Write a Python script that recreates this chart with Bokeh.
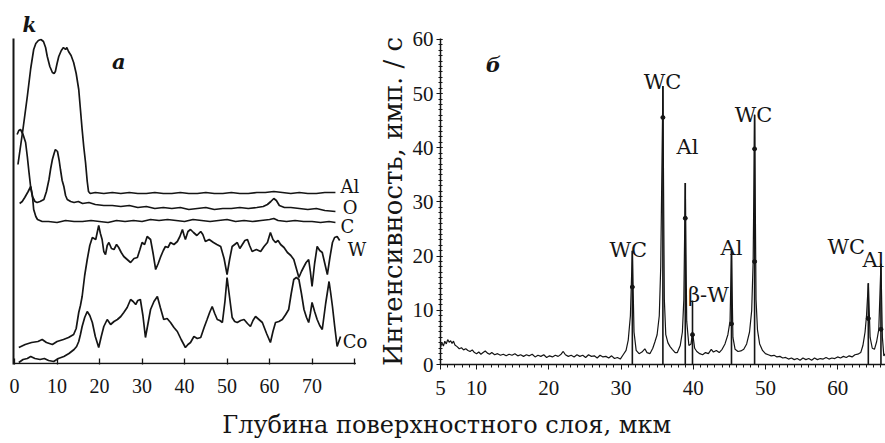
from bokeh.plotting import figure
from bokeh.layouts import row, column
from bokeh.models import Range1d, FixedTicker, Label
from bokeh.core.properties import value
from bokeh.embed import file_html
from bokeh.resources import INLINE

# ---------------- Panel a: depth profiles (arbitrary units k) ----------------
al_x = [0.8, 2.0, 3.0, 3.8, 4.5, 5.0, 5.6, 6.2, 6.8, 7.3, 7.7, 8.3, 8.9, 9.3, 9.6, 10.0, 10.4, 11.0, 11.5, 12.0,
        12.3, 12.7, 13.3, 13.9, 14.5, 15.1, 15.5, 15.9, 16.3, 16.7, 17.1, 17.4, 17.8, 19, 21, 23, 25, 27, 29, 31,
        33, 35, 37, 39, 41, 43, 45, 47, 49, 51, 53, 55, 57, 59, 61, 63, 65, 67, 69, 71, 73, 75.5]
al_k = [199, 235, 267, 295, 314, 320, 323, 324, 322, 316, 307, 297, 291, 290, 292, 300, 307, 313, 316, 314,
        316, 312, 308, 301, 290, 274, 254, 234, 216, 201, 182, 172, 170, 171, 170, 171, 170, 171, 170, 170,
        171, 170, 170, 171, 170, 170, 171, 170, 170, 171, 170, 170, 171, 171, 172, 171, 170, 171, 170, 170, 171, 171]

o_x = [0.6, 1.0, 1.4, 2.0, 2.6, 3.0, 3.4, 3.8, 4.2, 4.8, 5.3, 6.0, 6.9, 7.5, 8.1, 8.5, 8.9, 9.3, 9.6, 10.1,
       10.5, 10.8, 11.2, 11.6, 12.0, 12.4, 13.2, 14.0, 15, 16, 17.5, 19, 21, 23, 25, 27, 29, 31, 33, 35, 37, 39,
       41, 43, 45, 47, 49, 51, 53, 55, 57, 58.5, 59.5, 60.3, 61.0, 61.6, 62.3, 63.5, 65, 67, 69, 71, 73, 75.5]
o_k = [229, 233, 234, 229, 221, 207, 191, 176, 167, 162, 161, 162, 164, 172, 184, 195, 204, 210, 214, 212,
       203, 194, 183, 177, 168, 164, 162, 161, 162, 160, 161, 159, 158, 158, 157, 158, 156, 157, 155, 156, 155, 156,
       154, 155, 156, 154, 155, 155, 156, 155, 156, 157, 159, 162, 165, 163, 158, 156, 156, 155, 154, 155, 153, 152]

c_x = [1.2, 1.8, 2.4, 3.2, 3.8, 4.2, 4.5, 5.0, 5.4, 6.5, 8, 10, 12, 14, 16, 18, 20, 22, 24, 26, 28, 30, 32, 34,
       36, 38, 40, 42, 44, 46, 48, 50, 52, 54, 56, 58, 60, 61, 62, 64, 66, 68, 70, 72, 74, 75.5]
c_k = [160, 162, 166, 172, 177, 168, 154, 147, 144, 142, 142, 141, 143, 142, 142, 143, 142, 141, 143, 142, 143, 142,
       144, 143, 144, 143, 142, 144, 143, 142, 143, 144, 142, 143, 142, 143, 144, 145, 143, 142, 143, 142, 142, 141,
       142, 141]

w_x = [1.0, 2.5, 4.0, 5.5, 6.5, 7.5, 8.9, 10.0, 11.5, 12.7, 13.9, 14.5, 15.1, 15.5, 15.9, 16.5, 17.1, 17.7, 18.3,
       19.1, 19.8, 20.2, 20.6, 21.0, 21.4, 21.8, 22.2, 22.8, 23.4, 24.0, 24.5, 25.1, 25.7, 26.5, 27.3, 28.1, 28.9,
       29.5, 30.0, 30.6, 31.2, 32.0, 32.6, 33.2, 33.8, 34.4, 35.0, 35.5, 36.1, 36.7, 37.5, 38.3, 38.9, 39.5, 39.9,
       40.2, 40.8, 41.4, 42.1, 42.9, 43.8, 44.3, 44.9, 45.8, 46.8, 47.6, 48.5, 49.3, 50.0, 50.6, 51.2, 51.8, 52.4,
       53.0, 53.6, 54.2, 54.8, 55.3, 55.9, 56.9, 57.9, 58.7, 59.5, 60.2, 60.8, 61.4, 62.0, 62.6, 63.4, 64.2, 65.0,
       65.7, 66.3, 66.9, 67.5, 68.1, 68.6, 69.2, 69.6, 70.0, 70.6, 71.2, 71.8, 72.4, 73.0, 73.6, 74.2, 74.8, 75.3,
       75.9, 76.5]
w_k = [16, 19, 21, 22, 24, 21, 19, 22, 24, 26, 29, 35, 51, 58, 67, 88, 104, 118, 126,
       124, 138, 130, 124, 112, 109, 118, 121, 115, 114, 119, 116, 111, 107, 104, 101, 105, 106,
       114, 121, 119, 127, 124, 110, 94, 100, 107, 113, 117, 116, 121, 119, 122, 127, 134, 128,
       124, 132, 134, 131, 128, 132, 129, 122, 124, 121, 119, 117, 105, 89, 104, 117, 119, 121,
       115, 119, 123, 124, 118, 112, 114, 112, 117, 121, 131, 124, 121, 123, 119, 116, 111, 108,
       104, 95, 86, 92, 97, 101, 104, 92, 77, 100, 117, 113, 111, 100, 89, 106, 121, 126,
       127, 123]

co_x = [1.0, 2.0, 3.0, 3.8, 4.8, 6.0, 7.0, 8.0, 9.2, 10.3, 11.6, 12.8, 14.0, 14.6, 15.1, 15.5, 15.9, 16.5, 17.1,
        17.7, 18.3, 19.0, 19.8, 20.4, 21.0, 21.8, 22.6, 23.4, 24.2, 25.0, 25.7, 26.5, 27.3, 27.9, 28.5, 29.0, 29.6,
        30.2, 30.8, 31.4, 32.0, 32.8, 33.6, 34.3, 35.1, 35.9, 36.7, 37.5, 38.3, 39.2, 40.2, 40.8, 41.4, 42.2, 43.0,
        43.8, 44.6, 45.3, 45.9, 46.5, 47.1, 47.7, 48.3, 48.9, 49.5, 50.0, 50.6, 51.2, 51.8, 52.4, 53.2, 54.0, 54.8,
        55.5, 56.1, 56.7, 57.5, 58.3, 59.3, 60.2, 60.8, 61.4, 62.2, 63.0, 63.8, 64.5, 65.1, 65.7, 66.3, 66.9, 67.5,
        68.1, 68.7, 69.2, 69.6, 70.0, 70.6, 71.2, 71.8, 72.4, 73.2, 74.0, 74.4, 74.8, 75.3, 75.9, 76.3, 76.7]
co_k = [1, 4, 5, 7, 5, 4, 5, 3, 2, 5, 7, 10, 14, 17, 22, 29, 37, 46, 52,
        48, 41, 27, 16, 27, 37, 44, 39, 42, 44, 47, 51, 56, 64, 62, 59, 63, 64,
        48, 26, 40, 54, 62, 67, 56, 44, 45, 41, 36, 32, 24, 16, 19, 21, 27, 25,
        26, 36, 44, 51, 57, 50, 44, 43, 41, 62, 86, 66, 46, 42, 41, 43, 44, 40,
        37, 43, 47, 44, 41, 30, 21, 32, 41, 42, 44, 49, 54, 70, 84, 86, 84, 70,
        54, 46, 41, 50, 61, 52, 44, 38, 34, 60, 82, 70, 57, 38, 17, 22, 27]

left_ticks = [0, 10, 20, 30, 40, 50, 60, 70, 80]
left_axis_end = 80.3
elem_names = ["Al", "O", "C", "W", "Co"]
elem_lab_x = [76.7, 77.2, 76.7, 78.4, 77.2]
elem_lab_k = [177.5, 156.5, 137.5, 114.5, 22.5]

# ---------------- Panel б: diffraction pattern ----------------
spec_x = [5.0, 5.2, 5.4, 5.6, 5.8, 6.0, 6.2, 6.4, 6.6, 6.8, 7.0, 7.3, 7.6, 7.9, 8.2, 8.5, 8.8, 9.1, 9.4, 9.7,
          10.0, 10.3, 10.6, 10.9, 11.2, 11.5, 11.8, 12.1, 12.5, 12.9, 13.3, 13.7, 14.1, 14.5, 14.9, 15.3, 15.7,
          16.1, 16.5, 16.9, 17.3, 17.7, 18.1, 18.5, 18.9, 19.3, 19.7, 20.1, 20.5, 20.9, 21.3, 21.7, 22.0, 22.3,
          22.7, 23.1, 23.5, 23.9, 24.3, 24.7, 25.1, 25.5, 25.9, 26.3, 26.7, 27.1, 27.5, 27.9, 28.3, 28.7, 29.1,
          29.5, 29.9, 30.3, 30.7, 31.0, 31.3, 31.57, 31.8, 32.1, 32.5, 32.9, 33.3, 33.6, 34.0, 34.4, 34.7, 35.0,
          35.3, 35.5, 35.8, 36.0, 36.2, 36.5, 36.8, 37.1, 37.5, 37.8, 38.2, 38.5, 38.7, 38.9, 39.1, 39.4, 39.7,
          39.9, 40.2, 40.5, 40.9, 41.3, 41.7, 42.1, 42.5, 42.8, 43.2, 43.6, 44.0, 44.4, 44.8, 45.1, 45.3, 45.5,
          45.8, 46.2, 46.6, 47.0, 47.4, 47.8, 48.1, 48.3, 48.5, 48.7, 48.9, 49.2, 49.6, 50.0, 50.4, 50.8, 51.2,
          51.6, 52.0, 52.4, 52.8, 53.2, 53.6, 54.0, 54.4, 54.8, 55.2, 55.6, 56.0, 56.4, 56.8, 57.2, 57.6, 58.0,
          58.4, 58.8, 59.2, 59.6, 60.0, 60.4, 60.8, 61.2, 61.6, 62.0, 62.4, 62.8, 63.2, 63.5, 63.8, 64.0, 64.25,
          64.5, 64.8, 65.1, 65.4, 65.7, 66.0, 66.2, 66.4, 66.63]
spec_i = [3.2, 4.0, 3.4, 4.3, 3.8, 4.6, 4.1, 4.4, 3.9, 4.3, 3.6, 3.3, 2.9, 3.1, 2.7, 2.9, 2.6, 2.4, 2.7, 2.2,
          2.0, 2.3, 1.9, 2.2, 2.5, 2.1, 1.9, 2.2, 1.8, 2.0, 1.7, 1.9, 1.6, 1.9, 1.7, 2.0, 1.6,
          1.8, 1.5, 1.8, 1.6, 1.9, 1.4, 1.7, 1.5, 1.8, 1.3, 1.6, 1.4, 1.7, 1.5, 1.9, 2.4, 1.8,
          1.5, 1.7, 1.4, 1.8, 1.5, 1.7, 1.3, 1.8, 1.5, 1.6, 1.2, 1.7, 1.4, 1.5, 1.2, 1.6, 1.1,
          1.3, 1.0, 1.8, 2.6, 4.5, 9.0, 21.0, 6.0, 2.6, 2.0, 2.3, 2.9, 2.2, 2.0, 3.0, 4.2, 5.5,
          9.0, 18.0, 51.4, 12.0, 5.5, 4.0, 3.3, 2.8, 2.2, 2.2, 3.5, 6.0, 12.0, 33.5, 8.0, 3.5, 3.8,
          6.0, 3.0, 2.4, 2.0, 1.8, 2.2, 2.0, 2.8, 2.3, 2.6, 2.2, 2.8, 3.8, 5.5, 8.0, 21.0, 5.0,
          2.8, 2.4, 2.5, 2.8, 3.8, 6.0, 10.0, 19.0, 46.1, 12.0, 6.4, 3.8, 2.6, 2.0, 1.8, 1.6, 1.7,
          1.4, 1.5, 1.2, 1.3, 1.0, 1.2, 0.9, 1.1, 0.8, 1.2, 0.9, 1.1, 0.8, 1.2, 0.9, 1.1, 1.0,
          1.3, 1.0, 1.2, 1.1, 1.4, 1.2, 1.5, 1.3, 1.6, 1.4, 1.8, 1.9, 2.2, 3.5, 6.0, 9.0, 15.0,
          5.0, 3.0, 2.8, 4.2, 6.5, 18.6, 5.0, 1.6, 2.0]

peak_pos = [31.57, 35.8, 38.9, 39.9, 45.3, 48.5, 64.25, 66.0]
peak_height = [21.0, 51.4, 33.5, 11.8, 21.0, 46.1, 15.0, 18.6]
peak_names = ["WC", "WC", "Al", "β-W", "Al", "WC", "WC", "Al"]
peak_lab_x = [31.0, 35.75, 39.2, 42.1, 45.3, 48.35, 61.2, 64.95]
peak_lab_y = [21.2, 52.2, 40.1, 12.8, 21.5, 46.1, 21.7, 19.3]

dot_x = [31.57, 35.8, 38.9, 39.9, 45.3, 48.5, 48.5, 64.25, 66.0]
dot_y = [14.3, 45.6, 27.0, 5.5, 7.5, 39.8, 19.0, 8.5, 6.5]

right_xticks = [5, 10, 20, 30, 40, 50, 60]
right_yticks = [0, 10, 20, 30, 40, 50, 60]

INK = "#151515"
SERIF = "DejaVu Serif"
TICKFONT = "Liberation Serif"
TOP_H = 406

# ---------------- figure a ----------------
p1 = figure(width=368, height=TOP_H, x_range=Range1d(-0.25, 83.28), y_range=Range1d(-1, 325),
            output_backend="svg", toolbar_location=None,
            min_border_left=13, min_border_right=0, min_border_top=38, min_border_bottom=TOP_H - 364)
p1.outline_line_color = None
p1.grid.visible = False
p1.title.text = "k"
p1.title.text_font = SERIF
p1.title.text_font_size = "20px"
p1.title.text_font_style = "bold italic"
p1.title.text_color = INK
p1.title.align = "left"
p1.title.offset = 9
p1.title.standoff = 4
p1.xaxis.ticker = FixedTicker(ticks=left_ticks)
p1.xaxis.major_label_overrides = {80: ""}
p1.xaxis.major_tick_in = 6
p1.xaxis.major_tick_out = 0
p1.xaxis.minor_tick_line_color = None
p1.xaxis.axis_line_color = None
p1.xaxis.major_tick_line_color = INK
p1.xaxis.major_tick_line_width = 1.3
p1.xaxis.major_label_text_font = TICKFONT
p1.xaxis.major_label_text_font_size = "20px"
p1.xaxis.major_label_text_color = INK
p1.xaxis.major_label_standoff = 14
p1.yaxis.ticker = FixedTicker(ticks=[])
p1.yaxis.axis_line_width = 2
p1.yaxis.axis_line_color = INK
p1.yaxis.minor_tick_line_color = None

p1.segment(x0=[-0.25], y0=[0], x1=[left_axis_end], y1=[0], line_color=INK, line_width=1.6)
for xs, ks in [(al_x, al_k), (o_x, o_k), (c_x, c_k), (w_x, w_k), (co_x, co_k)]:
    p1.line(xs, ks, line_color=INK, line_width=1.7)

p1.text(x=elem_lab_x, y=elem_lab_k, text=elem_names, text_font=value(SERIF), text_font_size="18px",
        text_align="left", text_baseline="middle", text_color=INK)
p1.add_layout(Label(x=24.5, y=302, text="а", text_font=SERIF, text_font_size="21px",
                    text_font_style="bold italic", text_align="center", text_baseline="middle", text_color=INK))

# ---------------- figure б ----------------
p2 = figure(width=885 - 368, height=TOP_H, x_range=Range1d(5, 66.63), y_range=Range1d(0, 60.18),
            output_backend="svg", toolbar_location=None,
            min_border_left=72, min_border_right=0, min_border_top=38, min_border_bottom=TOP_H - 368)
p2.outline_line_color = None
p2.grid.visible = False
p2.xaxis.ticker = FixedTicker(ticks=right_xticks, minor_ticks=list(range(5, 67)))
p2.yaxis.ticker = FixedTicker(ticks=right_yticks, minor_ticks=list(range(0, 61)))
for ax in (p2.xaxis, p2.yaxis):
    ax.axis_line_width = 1.5
    ax.axis_line_color = INK
    ax.major_tick_line_color = INK
    ax.minor_tick_line_color = INK
    ax.major_label_text_font = TICKFONT
    ax.major_label_text_font_size = "21px"
    ax.major_label_text_color = INK
p2.xaxis.major_tick_out = 5
p2.xaxis.major_tick_in = 0
p2.xaxis.minor_tick_out = 3
p2.xaxis.minor_tick_in = 0
p2.xaxis.major_label_standoff = 11
p2.yaxis.major_tick_out = 4
p2.yaxis.major_tick_in = 2
p2.yaxis.minor_tick_out = 2
p2.yaxis.minor_tick_in = 2
p2.yaxis.major_label_standoff = 3
p2.yaxis.axis_label = "Интенсивность, имп. / с"
p2.yaxis.axis_label_text_font = SERIF
p2.yaxis.axis_label_text_font_size = "26px"
p2.yaxis.axis_label_text_font_style = "normal"
p2.yaxis.axis_label_text_color = INK
p2.yaxis.axis_label_standoff = 2

p2.line(spec_x, spec_i, line_color=INK, line_width=1.2)
p2.segment(x0=peak_pos, y0=[0] * len(peak_pos), x1=peak_pos, y1=peak_height, line_color=INK, line_width=1.6)
p2.scatter(dot_x, dot_y, size=4, color=INK)
p2.text(x=peak_lab_x, y=peak_lab_y, text=peak_names, text_font=value(SERIF), text_font_size="21px",
        text_align="center", text_baseline="alphabetic", text_color=INK)
p2.add_layout(Label(x=12.3, y=55.4, text="б", text_font=SERIF, text_font_size="21px",
                    text_font_style="bold italic", text_align="center", text_baseline="middle", text_color=INK))

# ---------------- common x label ----------------
BOT_H = 443 - TOP_H
p3 = figure(width=885, height=BOT_H, x_range=Range1d(0, 885), y_range=Range1d(0, BOT_H),
            output_backend="svg", toolbar_location=None, x_axis_location=None, y_axis_location=None,
            min_border=0)
p3.outline_line_color = None
p3.grid.visible = False
p3.text(x=[450], y=[BOT_H / 2], text=["Глубина поверхностного слоя,  мкм"], text_font=value(SERIF),
        text_font_size="24px", text_align="center", text_baseline="middle", text_color=INK)

p = column(row(p1, p2), p3)
open("out.html", "w").write(file_html(p, INLINE))
